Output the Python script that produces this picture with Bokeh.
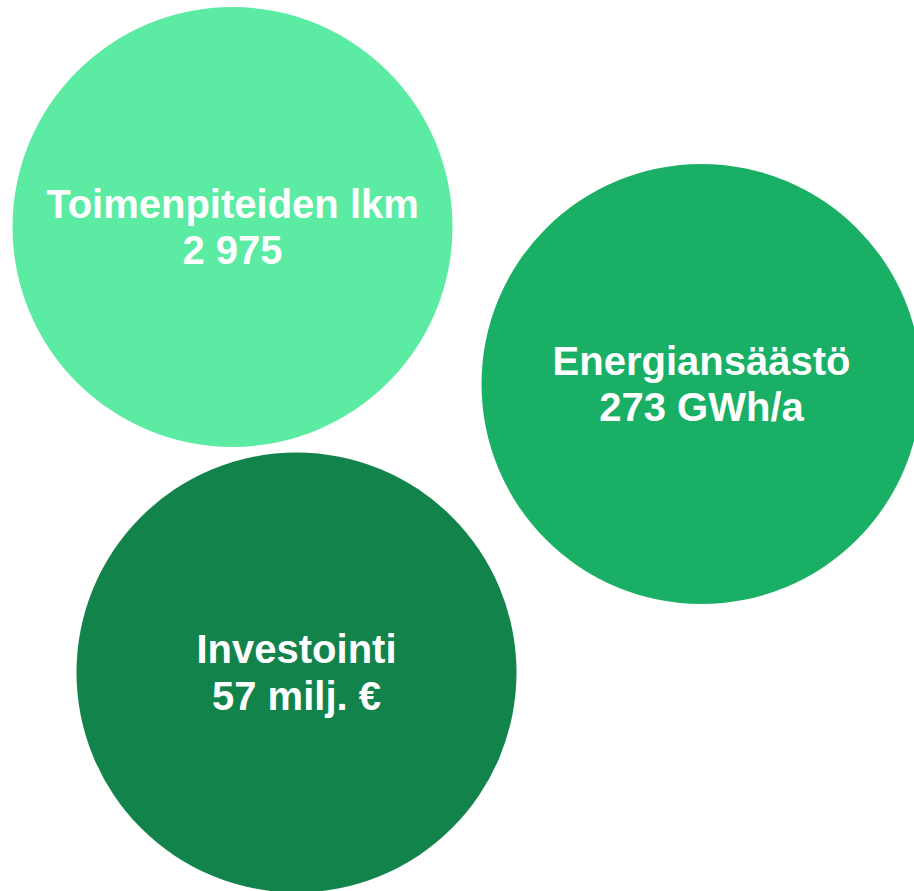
from bokeh.plotting import figure
from bokeh.models import Range1d, ColumnDataSource
from bokeh.core.properties import value
from bokeh.embed import file_html
from bokeh.resources import INLINE

# Data
labels = ["Toimenpiteiden lkm", "Energiansäästö", "Investointi"]
values = ["2 975", "273 GWh/a", "57 milj. €"]

# Layout (screen-pixel coordinates of the bubbles)
centers_x = [232, 701, 296]
centers_y = [226.5, 383.5, 672]
radius = 220
colors = ["#5CEBA3", "#19B065", "#13834C"]

W, H = 914, 891
p = figure(width=W, height=H, output_backend="svg", toolbar_location=None,
           x_range=Range1d(0, W), y_range=Range1d(H, 0),
           min_border=0)
p.axis.visible = False
p.grid.visible = False
p.outline_line_color = None
p.background_fill_color = "white"
p.border_fill_color = "white"

src = ColumnDataSource(dict(
    x=centers_x, y=centers_y, color=colors, label=labels, val=values,
    y1=[c - 23.5 for c in centers_y], y2=[c + 23 for c in centers_y],
))

p.circle(x="x", y="y", radius=radius, fill_color="color", line_color=None, source=src)

common = dict(text_align="center", text_baseline="alphabetic",
              text_font=value("Liberation Sans"), text_font_style="bold",
              text_font_size="40px", text_color="white", source=src)
p.text(x="x", y="y1", text="label", **common)
p.text(x="x", y="y2", text="val", **common)

open("out.html", "w").write(file_html(p, INLINE))
